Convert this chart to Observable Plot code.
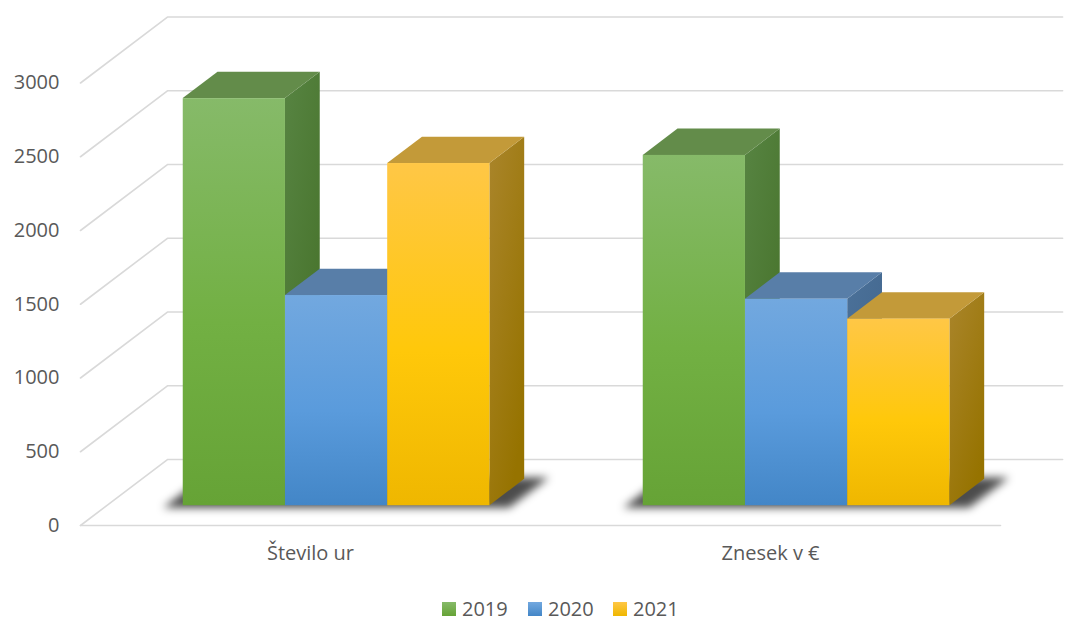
<!DOCTYPE html>
<html>
<head>
<meta charset="utf-8">
<script src="https://cdn.jsdelivr.net/npm/d3@7"></script>
<script src="https://cdn.jsdelivr.net/npm/@observablehq/plot@0.6"></script>
<style>
  body { margin: 0; background: #fff; font-family: 'Open Sans', sans-serif; }
  #legend { position: relative; height: 26px; width: 1075px; }
  .item { position: absolute; top: 3px; display: flex; align-items: center; font-size: 20px; color: #595959; line-height: 22px; }
  .sw { width: 14px; height: 14px; margin-right: 6px; }
</style>
</head>
<body>
<div id="chart"></div>
<div id="legend"></div>
<script>
// ---- data ----
const categories = ["Število ur", "Znesek v €"];
const years = ["2019", "2020", "2021"];
const values2019 = [2760, 2375];
const values2020 = [1425, 1400];
const values2021 = [2320, 1265];
const yTicks = [0, 500, 1000, 1500, 2000, 2500, 3000];
const seriesValues = [values2019, values2020, values2021];

// ---- styling ----
const palette = [
  { front: ["#86ba69", "#72b043", "#66a336"], side: ["#578442", "#46722a"], top: "#638c4a" },
  { front: ["#72a8df", "#5a9bdc", "#4386c7"], side: ["#4b7199", "#41658c"], top: "#587ea8" },
  { front: ["#ffc746", "#ffc80a", "#efb700"], side: ["#aa852b", "#967300"], top: "#c39a39" }
];

// ---- 3D projection layout (category units / value units) ----
const DEPTH_X = 0.189, DEPTH_Y = 447;
const T0 = 0.3, T1 = 0.7;
const GAP = 1.5;
const W = 1 / (years.length + GAP); // bar width in category units
const WALL_END = 2.135;
const P = (u, v, t) => ({ u: u + t * DEPTH_X, v: v + t * DEPTH_Y });

const marks = [];

// back wall gridlines
yTicks.forEach(tk => {
  const pts = [P(0, tk, 0), P(0, tk, 1), { u: WALL_END, v: tk + DEPTH_Y }];
  marks.push(Plot.line(pts, { x: "u", y: "v", stroke: "#d9d9d9", strokeWidth: 1.6 }));
});
// floor front edge
marks.push(Plot.line([P(0, 0, 0), P(categories.length, 0, 0)], { x: "u", y: "v", stroke: "#d9d9d9", strokeWidth: 1.6 }));

// bars geometry
const barsBySeries = seriesValues.map((vals, s) =>
  categories.map((c, i) => {
    const uL = i + (GAP * W) / 2 + s * W;
    return { id: `${s}-${i}`, uL, uR: uL + W, v: vals[i] };
  })
);

// floor shadows
const shadowPts = [];
barsBySeries[0].forEach((b, i) => {
  const last = barsBySeries[barsBySeries.length - 1][i];
  [T0 - 0.04, T1 + 0.02].forEach(t => {
    shadowPts.push({ id: "sh" + i, y: t * DEPTH_Y, x1: b.uL + t * DEPTH_X - 0.035, x2: last.uR + t * DEPTH_X + 0.05 });
  });
});
marks.push(Plot.areaX(shadowPts, { y: "y", x1: "x1", x2: "x2", z: "id", fill: "#000", fillOpacity: 0.7, imageFilter: "blur(4px)" }));

// bars, drawn left to right
categories.forEach((c, i) => {
  barsBySeries.forEach((series, s) => {
    const b = series[i];
    const front = [{ x1: b.uL + T0 * DEPTH_X, x2: b.uR + T0 * DEPTH_X, y1: T0 * DEPTH_Y, y2: b.v + T0 * DEPTH_Y }];
    const side = [T0, T1].map(t => ({ u: b.uR + t * DEPTH_X, y1: t * DEPTH_Y, y2: b.v + t * DEPTH_Y }));
    const top = [T0, T1].map(t => ({ y: b.v + t * DEPTH_Y, x1: b.uL + t * DEPTH_X, x2: b.uR + t * DEPTH_X }));
    marks.push(Plot.areaY(side, { x: "u", y1: "y1", y2: "y2", fill: `url(#gs${s})` }));
    marks.push(Plot.areaX(top, { y: "y", x1: "x1", x2: "x2", fill: palette[s].top }));
    marks.push(Plot.rect(front, { x1: "x1", x2: "x2", y1: "y1", y2: "y2", fill: `url(#gf${s})` }));
  });
});

// tick labels
marks.push(Plot.text(yTicks, { x: 0, y: d => d, text: d => String(d), textAnchor: "end", dx: -21, fill: "#595959", fontSize: 20 }));
// category labels
marks.push(Plot.text(categories, { x: (d, i) => i + 0.5, y: 0, text: d => d, dy: 28, fill: "#595959", fontSize: 20 }));

const svg = Plot.plot({
  width: 1075,
  height: 595,
  marginLeft: 80,
  marginRight: 75,
  marginTop: 82.5,
  marginBottom: 70,
  x: { domain: [0, categories.length], axis: null },
  y: { domain: [0, 3000], axis: null },
  style: { fontFamily: "'Open Sans', sans-serif", background: "#fff", overflow: "visible" },
  marks
});

// gradients
const ns = "http://www.w3.org/2000/svg";
const defs = document.createElementNS(ns, "defs");
function grad(id, colors, diag) {
  const g = document.createElementNS(ns, "linearGradient");
  g.setAttribute("id", id);
  g.setAttribute("x1", "0"); g.setAttribute("y1", "0");
  g.setAttribute("x2", diag ? "0.6" : "0"); g.setAttribute("y2", "1");
  colors.forEach((c, k) => {
    const st = document.createElementNS(ns, "stop");
    st.setAttribute("offset", colors.length === 3 && k === 1 ? "0.55" : String(k / (colors.length - 1)));
    st.setAttribute("stop-color", c);
    g.appendChild(st);
  });
  defs.appendChild(g);
}
palette.forEach((p, s) => {
  grad("gf" + s, p.front);
  grad("gs" + s, p.side, true);
});
svg.insertBefore(defs, svg.firstChild);

document.getElementById("chart").appendChild(svg);

// legend
const legend = document.getElementById("legend");
const legendLeft = [442, 528, 613];
years.forEach((y, s) => {
  const it = document.createElement("div");
  it.className = "item";
  it.style.left = legendLeft[s] + "px";
  const sw = document.createElement("div");
  sw.className = "sw";
  sw.style.background = `linear-gradient(${palette[s].front[0]}, ${palette[s].front[2]})`;
  const tx = document.createElement("span");
  tx.textContent = y;
  it.appendChild(sw); it.appendChild(tx);
  legend.appendChild(it);
});
</script>
</body>
</html>
